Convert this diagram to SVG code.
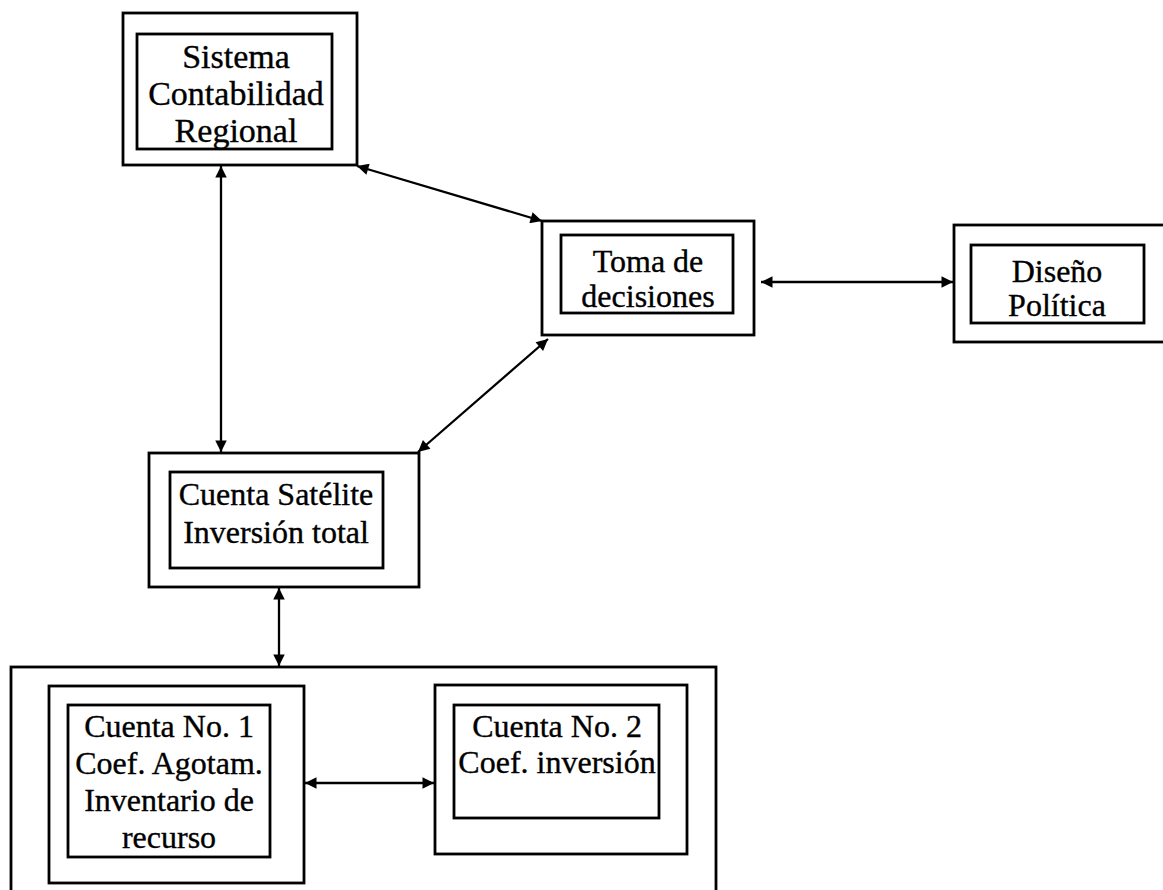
<svg xmlns="http://www.w3.org/2000/svg" width="1163" height="890" viewBox="0 0 1163 890">
<style>
.box{fill:none;stroke:#000;stroke-width:2.8}
.t{font-family:"Liberation Serif","Times New Roman",serif;font-size:32px;fill:#000;stroke:#000;stroke-width:0.35;text-anchor:middle}
.big{font-size:34px}
.c{stroke:#000;stroke-width:2.3;fill:none;marker-start:url(#ah);marker-end:url(#ah)}
</style>
<defs>
<marker id="ah" viewBox="0 0 10 10" refX="10" refY="5" markerWidth="5.5" markerHeight="5" markerUnits="strokeWidth" orient="auto-start-reverse">
<path d="M0,0 L10,5 L0,10 Z" fill="#000"/>
</marker>
</defs>
<rect width="1163" height="890" fill="#fff"/>
<g id="sistema">
<rect class="box" x="123" y="13" width="234" height="152"/>
<rect class="box" x="137" y="34" width="195" height="115"/>
<text class="t big" x="236" y="68">Sistema</text>
<text class="t big" x="236" y="105">Contabilidad</text>
<text class="t big" x="236" y="142">Regional</text>
</g>
<g id="toma">
<rect class="box" x="542" y="221" width="212" height="114"/>
<rect class="box" x="561" y="235" width="172" height="78"/>
<text class="t" x="648" y="272">Toma de</text>
<text class="t" x="648" y="307">decisiones</text>
</g>
<g id="diseno">
<rect class="box" x="954" y="225" width="220" height="117"/>
<rect class="box" x="971" y="245" width="173" height="78"/>
<text class="t" x="1057" y="282">Diseño</text>
<text class="t" x="1057" y="316">Política</text>
</g>
<g id="satelite">
<rect class="box" x="149" y="453" width="270" height="134"/>
<rect class="box" x="170" y="472" width="213" height="96"/>
<text class="t" x="276" y="505">Cuenta Satélite</text>
<text class="t" x="276" y="543">Inversión total</text>
</g>
<g id="contenedor">
<rect class="box" x="11" y="667" width="705" height="240"/>
</g>
<g id="cuenta1">
<rect class="box" x="49" y="686" width="255" height="197"/>
<rect class="box" x="68" y="705" width="202" height="152"/>
<text class="t" x="169" y="737">Cuenta No. 1</text>
<text class="t" x="169" y="774">Coef. Agotam.</text>
<text class="t" x="169" y="811">Inventario de</text>
<text class="t" x="169" y="848">recurso</text>
</g>
<g id="cuenta2">
<rect class="box" x="435" y="685" width="252" height="169"/>
<rect class="box" x="454" y="705" width="205" height="113"/>
<text class="t" x="557" y="737">Cuenta No. 2</text>
<text class="t" x="557" y="773">Coef. inversión</text>
</g>
<g id="conectores">
<line class="c" x1="221" y1="166" x2="221" y2="452"/>
<line class="c" x1="357" y1="166" x2="542" y2="221"/>
<line class="c" x1="418" y1="452" x2="548" y2="339"/>
<line class="c" x1="761" y1="282" x2="953" y2="282"/>
<line class="c" x1="279" y1="588" x2="279" y2="666"/>
<line class="c" x1="305" y1="783" x2="434" y2="783"/>
</g>
</svg>
